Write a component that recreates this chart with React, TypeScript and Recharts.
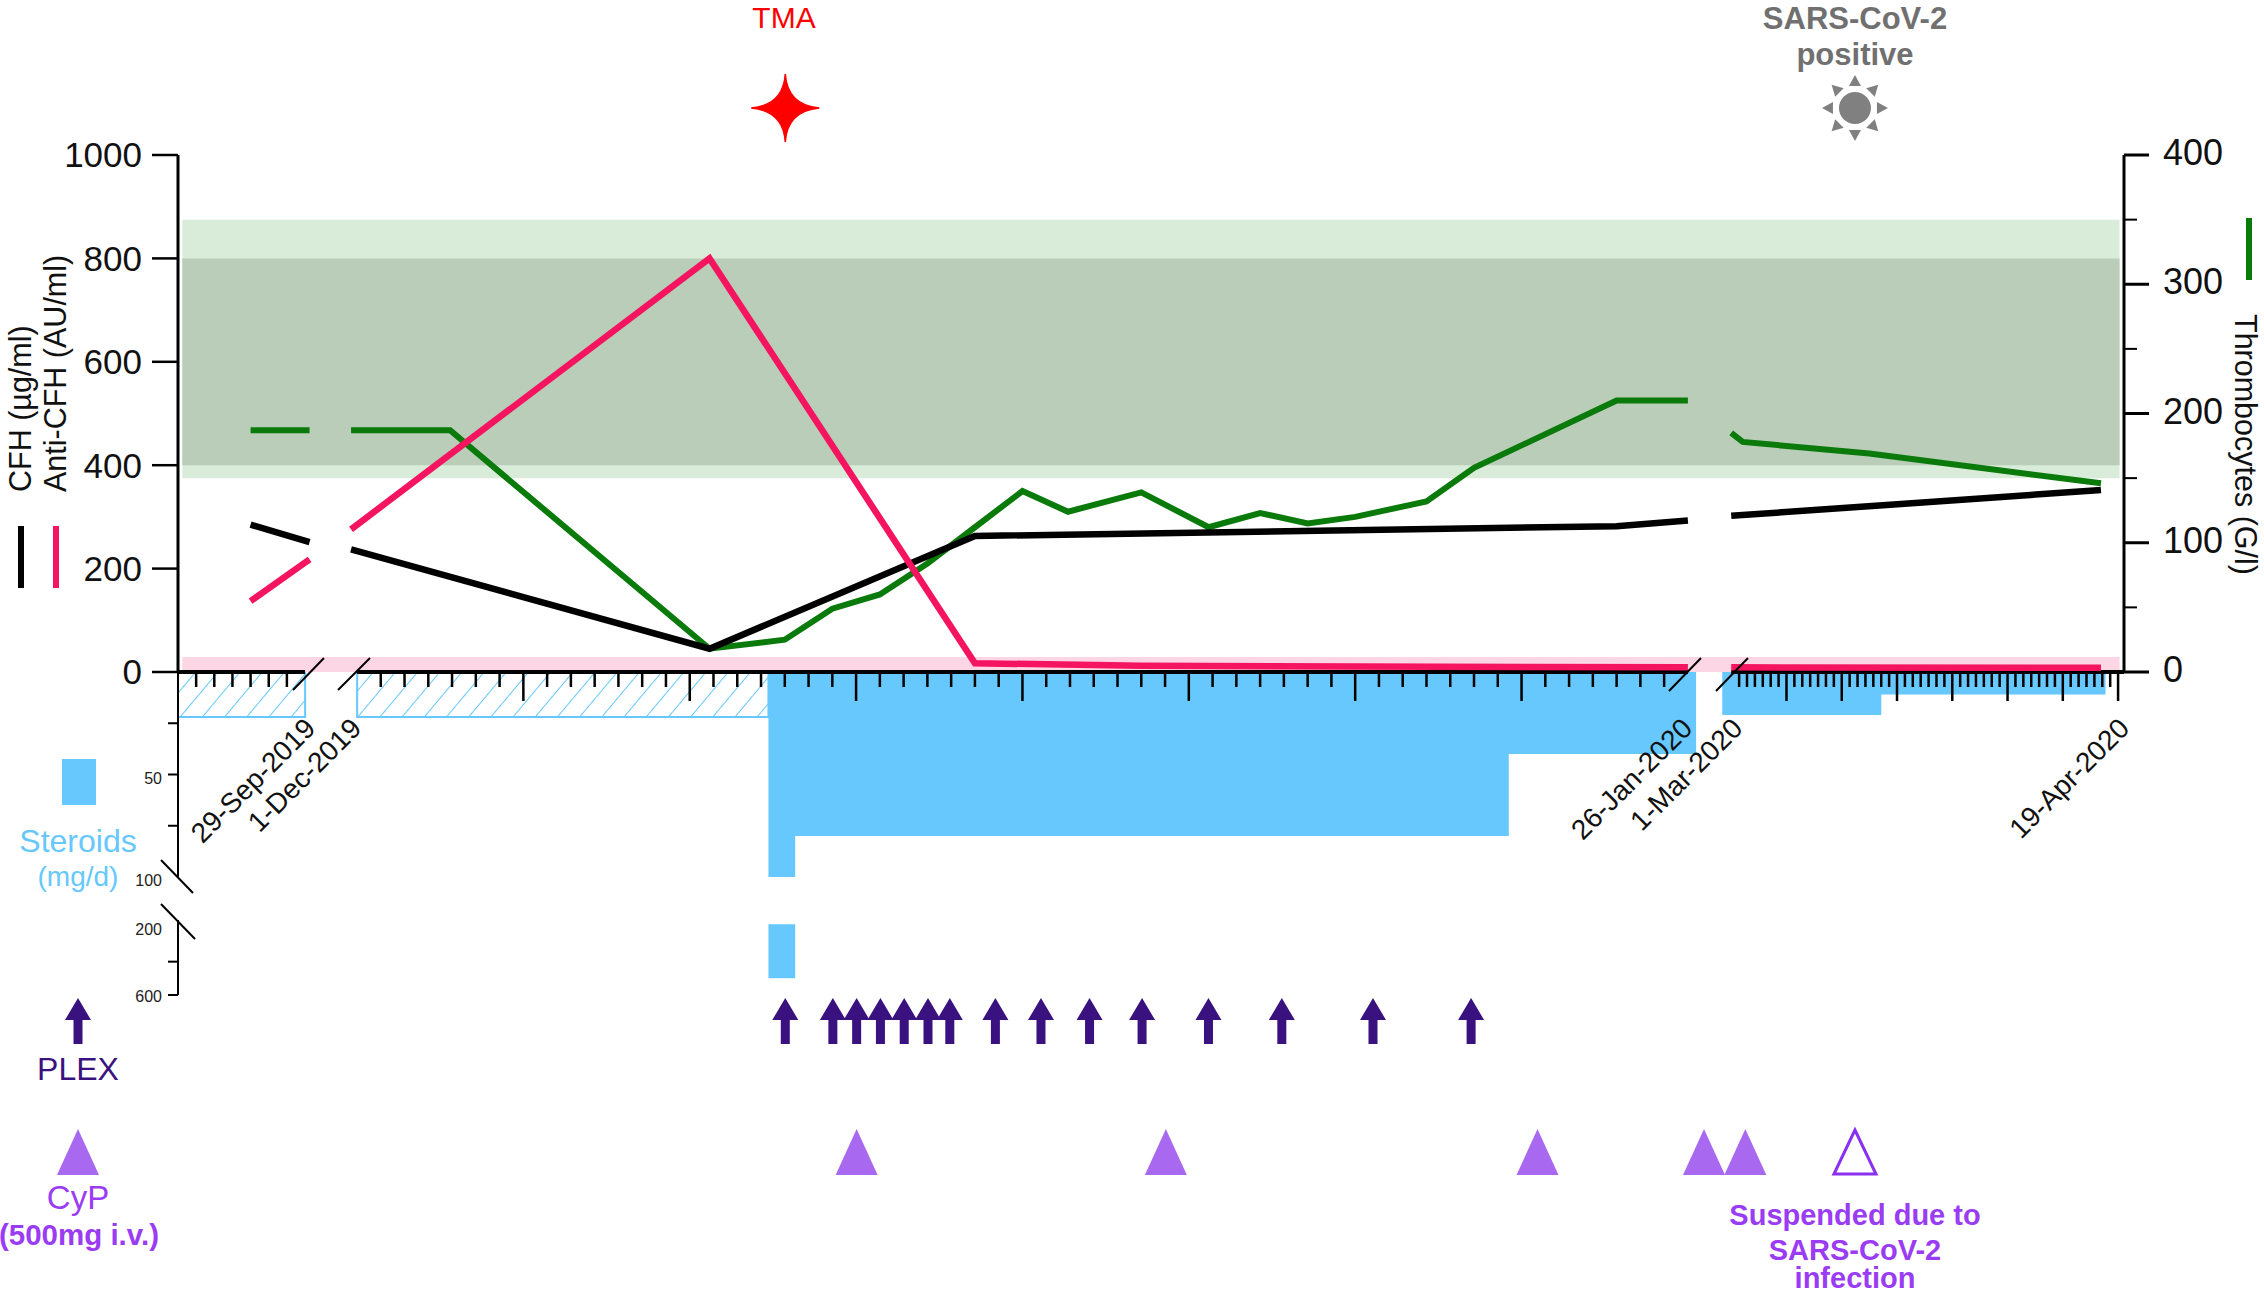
import {
  Area,
  ComposedChart,
  Line,
  ReferenceArea,
  Scatter,
  XAxis,
  YAxis,
} from "recharts";

const FONT = "'Liberation Sans', Arial, sans-serif";
const WIDTH = 2264;
const LEFT = 178;
const RIGHT = 140;

const BLACK_LINE = "#000000";
const PINK = "#f5145f";
const GREEN = "#0a7a0a";
const BLUE = "#66c8fc";
const PLEX_PURPLE = "#3a1280";
const CYP_PURPLE = "#a868f0";
const CYP_TEXT = "#9b3cf5";

// the time axis is broken twice, each piece has its own day width
const SEGMENTS = [
  { from: "2019-09-22", to: "2019-09-29", start: 0, end: 88 },
  { from: "2019-12-01", to: "2020-01-26", start: 124, end: 1046 },
  { from: "2020-03-01", to: "2020-04-19", start: 1076, end: 1344 },
];
const AXIS_MAX = 1347;
// null rows sit here so the lines stop at the axis breaks
const GAP_1 = "2019-09-30";
const GAP_2 = "2020-01-27";

const plateletDates = [
  "2019-09-26", "2019-09-29T06:00", GAP_1, "2019-11-30T18:00", "2019-12-04T22:00", "2019-12-15T20:00",
  "2019-12-19", "2019-12-21", "2019-12-23", "2019-12-25", "2019-12-27", "2019-12-29",
  "2019-12-30T22:00", "2020-01-03", "2020-01-05T20:00", "2020-01-08", "2020-01-10", "2020-01-12",
  "2020-01-15", "2020-01-17", "2020-01-23", "2020-01-26", GAP_2, "2020-03-01",
  "2020-03-02T11:00", "2020-03-18T12:00", "2020-04-16T20:00",
];
const plateletValues = [
  187, 187, null, 187, 187, 18,
  25, 49, 60, 84, 112, 140,
  124, 139, 112, 123, 115, 120,
  132, 158, 210, 210, null, 185,
  178, 169, 146,
];

const cfhDates = [
  "2019-09-26", "2019-09-29T06:00", GAP_1, "2019-11-30T18:00", "2019-12-15T20:00", "2019-12-27",
  "2020-01-23", "2020-01-26", GAP_2, "2020-03-01", "2020-04-16T20:00",
];
const cfhValues = [285, 251, null, 237, 45, 263, 282, 293, null, 302, 352];

const antiCfhDates = [
  "2019-09-26", "2019-09-29T06:00", GAP_1, "2019-11-30T18:00", "2019-12-15T20:00", "2019-12-27",
  "2020-01-03", "2020-01-26", GAP_2, "2020-03-01", "2020-04-16T20:00",
];
const antiCfhValues = [137, 218, null, 276, 800, 17, 12, 9, null, 9, 8];

const baselineDates = [
  "2019-09-22", "2019-09-29", GAP_1, "2019-12-01", "2020-01-26", GAP_2, "2020-03-01", "2020-04-19T18:00",
];
const baselineValues = [0, 0, null, 0, 0, null, 0, 0];

const steroidOralDates = [
  "2019-09-22", "2019-09-22", "2019-09-29", "2019-09-29", GAP_1,
  "2019-12-01", "2019-12-01", "2019-12-18T07:00", "2019-12-18T07:00",
];
const steroidOralValues = [0, 22, 22, 0, null, 0, 22, 22, 0];

const steroidDates = [
  "2019-12-18T07:00", "2019-12-19T10:00", "2020-01-18T10:00", "2020-01-26T07:00", GAP_2,
  "2020-02-28T17:00", "2020-03-19T20:00", "2020-04-17T05:00",
];
const steroidValues = [100, 80, 40, 40, null, 21, 11, 11];

const pulseDates = ["2019-12-18T07:00", "2019-12-19T10:00"];
const pulseRanges = [[175, 500], [175, 500]];

const plexDates = [
  "2019-12-19", "2019-12-21", "2019-12-22", "2019-12-23", "2019-12-24", "2019-12-25", "2019-12-25T22:00",
  "2019-12-27T20:00", "2019-12-29T18:00", "2019-12-31T19:00", "2020-01-03", "2020-01-05T19:00",
  "2020-01-08T21:00", "2020-01-12T17:00", "2020-01-16T20:00",
];
const cypDates = ["2019-12-22", "2020-01-04", "2020-01-19T15:00", "2020-01-26T15:00", "2020-03-02T15:00"];
const cypSuspendedDates = ["2020-03-16T12:00"];
const tmaDates = ["2019-12-19"];
const covidDates = ["2020-03-16T12:00"];

const leftTicks = [0, 200, 400, 600, 800, 1000];
const rightTicks = [0, 50, 100, 150, 200, 250, 300, 350, 400];
const rightLabels = [0, 100, 200, 300, 400];
const steroidTicks = [25, 50, 75, 100];
const steroidLabels = [50, 100];
const pulseTicks = [200, 400, 600];

const tickLabels: Record<string, { text: string; dx: number }> = {
  "2019-09-29": { text: "29-Sep-2019", dx: -2 },
  "2019-12-01": { text: "1-Dec-2019", dx: -8 },
  "2020-01-26": { text: "26-Jan-2020", dx: -8 },
  "2020-03-01": { text: "1-Mar-2020", dx: -1 },
  "2020-04-19": { text: "19-Apr-2020", dx: -1 },
};

function ms(d: string) {
  return Date.parse(d.length === 10 ? d + "T00:00Z" : d + "Z");
}

function toAxis(d: string) {
  const t = ms(d);
  for (let i = 0; i < SEGMENTS.length; i++) {
    const s = SEGMENTS[i];
    const next = SEGMENTS[i + 1];
    if (!next || t < (ms(s.to) + ms(next.from)) / 2) {
      const f = (t - ms(s.from)) / (ms(s.to) - ms(s.from));
      return s.start + f * (s.end - s.start);
    }
  }
  return 0;
}

const rows = (dates: string[], values: any[]) =>
  dates.map((d, i) => ({ x: toAxis(d), y: values[i] }));

const lane = (dates: string[]) => dates.map((d) => ({ x: toAxis(d), y: 0 }));

// every day on the axis, weekly ones are long, the ends of each piece carry the date
const DAY = 86400000;
const xTicks: { x: number; major: boolean; line: boolean; label?: { text: string; dx: number } }[] = [];
SEGMENTS.forEach((s, si) => {
  const count = Math.round((ms(s.to) - ms(s.from)) / DAY);
  for (let i = 0; i <= count; i++) {
    const iso = new Date(ms(s.from) + i * DAY).toISOString().slice(0, 10);
    const isEnd = i === 0 || i === count;
    xTicks.push({
      x: toAxis(iso),
      major: si > 0 && i % 7 === 0,
      line: !isEnd || iso === "2020-04-19",
      label: tickLabels[iso],
    });
  }
});

function XTick({ x, y, payload }: any) {
  const t = xTicks.find((k) => Math.abs(k.x - payload.value) < 0.01);
  if (!t) return null;
  const lx = t.label ? x + 14 + t.label.dx : x;
  return (
    <g>
      {t.line && <line x1={x} x2={x} y1={y} y2={y + (t.major ? 29 : 15)} stroke="#000" strokeWidth={2.5} />}
      {t.label && (
        <text
          x={lx}
          y={y + 58}
          textAnchor="end"
          fontSize={28}
          fill="#111"
          fontFamily={FONT}
          transform={`rotate(-45 ${lx} ${y + 58})`}
        >
          {t.label.text}
        </text>
      )}
    </g>
  );
}

function RightTick({ x, y, payload }: any) {
  const major = rightLabels.includes(payload.value);
  return (
    <g>
      <line x1={x} x2={x + (major ? 25 : 13)} y1={y} y2={y} stroke="#000" strokeWidth={major ? 3 : 2} />
      {major && (
        <text x={x + 39} y={y + 10} fontSize={36} fill="#111" fontFamily={FONT}>
          {payload.value}
        </text>
      )}
    </g>
  );
}

function SteroidTick({ x, y, payload }: any) {
  const labelled = steroidLabels.includes(payload.value);
  return (
    <g>
      {payload.value !== 100 && <line x1={x} x2={x - 10} y1={y} y2={y} stroke="#000" strokeWidth={2} />}
      {labelled && (
        <text x={x - 16} y={y + 9} textAnchor="end" fontSize={16} fill="#222" fontFamily={FONT}>
          {payload.value}
        </text>
      )}
    </g>
  );
}

function PulseTick({ x, y, payload }: any) {
  return (
    <g>
      {payload.value !== 200 && <line x1={x} x2={x - 10} y1={y} y2={y} stroke="#000" strokeWidth={2} />}
      {payload.value !== 400 && (
        <text x={x - 16} y={y + 7} textAnchor="end" fontSize={16} fill="#222" fontFamily={FONT}>
          {payload.value}
        </text>
      )}
    </g>
  );
}

function Arrow({ cx, cy }: any) {
  return (
    <path
      d={`M${cx},${cy - 23} L${cx + 13},${cy - 1} L${cx + 4.5},${cy - 1} L${cx + 4.5},${cy + 23} L${cx - 4.5},${cy + 23} L${cx - 4.5},${cy - 1} L${cx - 13},${cy - 1} Z`}
      fill={PLEX_PURPLE}
    />
  );
}

function Triangle({ cx, cy }: any) {
  return <path d={`M${cx},${cy - 23} L${cx + 21},${cy + 23} L${cx - 21},${cy + 23} Z`} fill={CYP_PURPLE} />;
}

function OpenTriangle({ cx, cy }: any) {
  return (
    <path
      d={`M${cx},${cy - 22} L${cx + 21},${cy + 22} L${cx - 21},${cy + 22} Z`}
      fill="#fff"
      stroke="#8a30f0"
      strokeWidth={3}
    />
  );
}

function Star({ cx, cy }: any) {
  return (
    <path
      d={`M${cx},${cy - 34} Q${cx + 2},${cy - 3} ${cx + 34},${cy} Q${cx + 2},${cy + 3} ${cx},${cy + 34} Q${cx - 2},${cy + 3} ${cx - 34},${cy} Q${cx - 2},${cy - 3} ${cx},${cy - 34} Z`}
      fill="#ff0000"
      stroke="#ff0000"
      strokeWidth={1.5}
      strokeLinejoin="miter"
    />
  );
}

function Sun({ cx, cy }: any) {
  return (
    <g fill="#808080">
      <circle cx={cx} cy={cy} r={16} />
      {[0, 45, 90, 135, 180, 225, 270, 315].map((a) => (
        <path key={a} d={`M${cx - 6},${cy - 22} L${cx + 6},${cy - 22} L${cx},${cy - 33} Z`} transform={`rotate(${a} ${cx} ${cy})`} />
      ))}
    </g>
  );
}

function EventLane({ top, dates, shape }: { top: number; dates: string[]; shape: any }) {
  return (
    <div style={{ position: "absolute", left: 0, top: top - 50 }}>
      <ComposedChart width={WIDTH} height={100} margin={{ top: 0, right: RIGHT, bottom: 0, left: LEFT }}>
        <XAxis dataKey="x" type="number" domain={[0, AXIS_MAX]} hide />
        <YAxis dataKey="y" type="number" domain={[-1, 1]} hide />
        <Scatter data={lane(dates)} shape={shape} isAnimationActive={false} />
      </ComposedChart>
    </div>
  );
}

function Notes() {
  const t = { fontFamily: FONT, textAnchor: "middle" as const };
  return (
    <svg width={WIDTH} height={1295} style={{ position: "absolute", left: 0, top: 0 }}>
      <text x={784} y={28} fontSize={30} fill="#ff0000" {...t}>TMA</text>
      <text x={1855} y={29} fontSize={31} fontWeight="bold" fill="#707070" {...t}>SARS-CoV-2</text>
      <text x={1855} y={65} fontSize={31} fontWeight="bold" fill="#707070" {...t}>positive</text>

      <text x={0} y={0} fontSize={30.5} fill="#111" fontFamily={FONT} transform="translate(31 492) rotate(-90)">CFH (µg/ml)</text>
      <text x={0} y={0} fontSize={30.5} fill="#111" fontFamily={FONT} transform="translate(66 492) rotate(-90)">Anti-CFH (AU/ml)</text>
      <line x1={21} x2={21} y1={526} y2={588} stroke={BLACK_LINE} strokeWidth={6} />
      <line x1={56} x2={56} y1={526} y2={588} stroke={PINK} strokeWidth={6} />

      <line x1={2249} x2={2249} y1={218} y2={280} stroke={GREEN} strokeWidth={6} />
      <text x={0} y={0} fontSize={30.5} fill="#111" fontFamily={FONT} transform="translate(2235 314) rotate(90)">Thrombocytes (G/l)</text>

      <rect x={62} y={759} width={34} height={46} fill={BLUE} />
      <text x={78} y={852} fontSize={32} fill={BLUE} {...t}>Steroids</text>
      <text x={78} y={886} fontSize={28} fill={BLUE} {...t}>(mg/d)</text>

      <Arrow cx={78} cy={1021} />
      <text x={78} y={1080} fontSize={32} fill={PLEX_PURPLE} {...t}>PLEX</text>

      <Triangle cx={78} cy={1152} />
      <text x={78} y={1209} fontSize={33} fill={CYP_TEXT} {...t}>CyP</text>
      <text x={79} y={1245} fontSize={29.5} fontWeight="bold" fill={CYP_TEXT} {...t}>(500mg i.v.)</text>

      <text x={1855} y={1225} fontSize={29} fontWeight="bold" fill={CYP_TEXT} {...t}>Suspended due to</text>
      <text x={1855} y={1260} fontSize={29} fontWeight="bold" fill={CYP_TEXT} {...t}>SARS-CoV-2</text>
      <text x={1855} y={1288} fontSize={29} fontWeight="bold" fill={CYP_TEXT} {...t}>infection</text>

      {/* axis break marks */}
      <g stroke="#000" strokeWidth={2}>
        <line x1={161} y1={860} x2={193} y2={893} />
        <line x1={161} y1={904} x2={195} y2={939} />
        <line x1={293} y1={690} x2={324} y2={658} />
        <line x1={338} y1={690} x2={370} y2={658} />
        <line x1={1669} y1={691} x2={1701} y2={658} />
        <line x1={1716} y1={691} x2={1748} y2={658} />
      </g>
    </svg>
  );
}

export default function App() {
  return (
    <div style={{ position: "absolute", left: 0, top: 0, width: WIDTH, height: 1295, overflow: "hidden", background: "#fff", fontFamily: FONT }}>
      {/* steroid dose, upper part of the broken axis */}
      <div style={{ position: "absolute", left: 0, top: 640 }}>
        <ComposedChart width={WIDTH} height={267} margin={{ top: 32, right: RIGHT, bottom: 30, left: 0 }}>
          <defs>
            <pattern id="oralHatch" width={17} height={17} patternUnits="userSpaceOnUse" patternTransform="rotate(40)">
              <line x1={0} y1={0} x2={0} y2={17} stroke={BLUE} strokeWidth={2} />
            </pattern>
          </defs>
          <XAxis dataKey="x" type="number" domain={[0, AXIS_MAX]} hide />
          <YAxis
            width={LEFT}
            type="number"
            reversed
            domain={[0, 100]}
            ticks={steroidTicks}
            interval={0}
            tick={SteroidTick}
            tickLine={false}
            tickSize={0}
            tickMargin={0}
            axisLine={{ stroke: "#000", strokeWidth: 2 }}
          />
          <Area
            data={rows(steroidOralDates, steroidOralValues)}
            dataKey="y"
            type="stepAfter"
            stroke={BLUE}
            strokeWidth={2}
            fill="url(#oralHatch)"
            fillOpacity={1}
            dot={false}
            activeDot={false}
            isAnimationActive={false}
          />
          <Area
            data={rows(steroidDates, steroidValues)}
            dataKey="y"
            type="stepAfter"
            stroke="none"
            fill={BLUE}
            fillOpacity={1}
            dot={false}
            activeDot={false}
            isAnimationActive={false}
          />
        </ComposedChart>
      </div>

      {/* steroid pulse, lower part of the broken axis */}
      <div style={{ position: "absolute", left: 0, top: 900 }}>
        <ComposedChart width={WIDTH} height={115} margin={{ top: 20, right: RIGHT, bottom: 20, left: 0 }}>
          <XAxis dataKey="x" type="number" domain={[0, AXIS_MAX]} hide />
          <YAxis
            width={LEFT}
            type="number"
            reversed
            domain={[150, 600]}
            ticks={pulseTicks}
            interval={0}
            tick={PulseTick}
            tickLine={false}
            tickSize={0}
            tickMargin={0}
            axisLine={{ stroke: "#000", strokeWidth: 2 }}
          />
          <Area
            data={rows(pulseDates, pulseRanges)}
            dataKey="y"
            stroke="none"
            fill={BLUE}
            fillOpacity={1}
            dot={false}
            activeDot={false}
            isAnimationActive={false}
          />
        </ComposedChart>
      </div>

      <EventLane top={108} dates={tmaDates} shape={Star} />
      <EventLane top={108} dates={covidDates} shape={Sun} />
      <EventLane top={1021} dates={plexDates} shape={Arrow} />
      <EventLane top={1152} dates={cypDates} shape={Triangle} />
      <EventLane top={1152} dates={cypSuspendedDates} shape={OpenTriangle} />

      {/* labs */}
      <div style={{ position: "absolute", left: 0, top: 0 }}>
        <ComposedChart width={WIDTH} height={972} margin={{ top: 155, right: 0, bottom: 0, left: 0 }}>
          <XAxis
            dataKey="x"
            type="number"
            domain={[0, AXIS_MAX]}
            ticks={xTicks.map((t) => t.x)}
            interval={0}
            height={300}
            axisLine={false}
            tickLine={false}
            tickSize={0}
            tickMargin={0}
            tick={XTick}
          />
          <YAxis
            yAxisId="left"
            width={LEFT}
            type="number"
            domain={[0, 1000]}
            ticks={leftTicks}
            interval={0}
            tickSize={26}
            tickMargin={10}
            tick={{ fontSize: 35, fill: "#111", fontFamily: FONT }}
            tickLine={{ stroke: "#000", strokeWidth: 2.5 }}
            axisLine={{ stroke: "#000", strokeWidth: 3 }}
          />
          <YAxis
            yAxisId="right"
            orientation="right"
            width={RIGHT}
            type="number"
            domain={[0, 400]}
            ticks={rightTicks}
            interval={0}
            tickSize={0}
            tickMargin={0}
            tick={RightTick}
            tickLine={false}
            axisLine={{ stroke: "#000", strokeWidth: 3 }}
          />
          <ReferenceArea yAxisId="right" x1={3} x2={1345} y1={150} y2={350} fill="#d9ecd9" fillOpacity={1} stroke="none" />
          <ReferenceArea yAxisId="left" x1={3} x2={1345} y1={400} y2={800} fill="#b9cdb9" fillOpacity={1} stroke="none" />
          <ReferenceArea yAxisId="left" x1={3} x2={1345} y1={0} y2={29} fill="#fcd6e4" fillOpacity={1} stroke="none" />
          <Line
            yAxisId="left"
            data={rows(baselineDates, baselineValues)}
            dataKey="y"
            stroke="#000"
            strokeWidth={4}
            dot={false}
            activeDot={false}
            isAnimationActive={false}
          />
          <Line
            yAxisId="right"
            data={rows(plateletDates, plateletValues)}
            dataKey="y"
            stroke={GREEN}
            strokeWidth={6}
            dot={false}
            activeDot={false}
            isAnimationActive={false}
          />
          <Line
            yAxisId="left"
            data={rows(cfhDates, cfhValues)}
            dataKey="y"
            stroke={BLACK_LINE}
            strokeWidth={6.5}
            dot={false}
            activeDot={false}
            isAnimationActive={false}
          />
          <Line
            yAxisId="left"
            data={rows(antiCfhDates, antiCfhValues)}
            dataKey="y"
            stroke={PINK}
            strokeWidth={6.5}
            dot={false}
            activeDot={false}
            isAnimationActive={false}
          />
        </ComposedChart>
      </div>

      <Notes />
    </div>
  );
}
